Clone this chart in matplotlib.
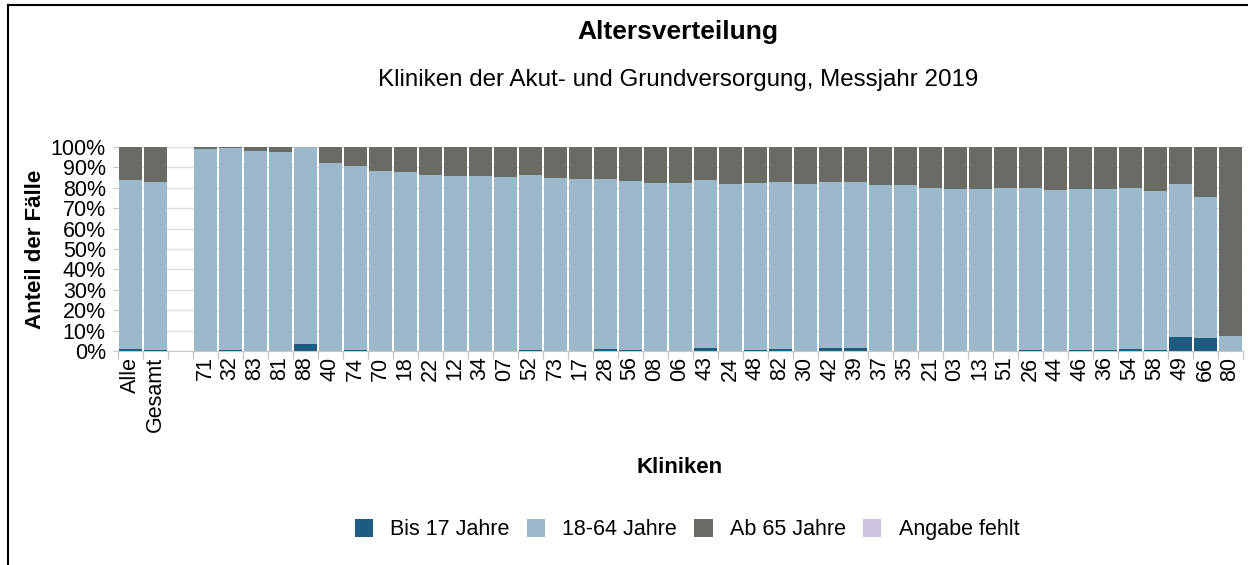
import numpy as np
import matplotlib.pyplot as plt
from matplotlib.lines import Line2D

plt.rcParams['font.family'] = ['Liberation Sans', 'DejaVu Sans']

# Kategorien (leerer Platz zwischen Gesamt und den Kliniken)
kliniken = ['Alle', 'Gesamt', '',
            '71', '32', '83', '81', '88', '40', '74', '70', '18', '22', '12', '34',
            '07', '52', '73', '17', '28', '56', '08', '06', '43', '24', '48', '82',
            '30', '42', '39', '37', '35', '21', '03', '13', '51', '26', '44', '46',
            '36', '54', '58', '49', '66', '80']

# Anteile in Prozent
bis17 = [0.8, 0.5, 0,
         0.0, 0.3, 0.0, 0.0, 3.4, 0.0, 0.5, 0.0, 0.0, 0.0, 0.0, 0.0,
         0.0, 0.5, 0.0, 0.0, 1.0, 0.5, 0.0, 0.0, 1.5, 0.0, 0.3, 1.0,
         0.0, 1.6, 1.5, 0.0, 0.0, 0.0, 0.0, 0.0, 0.0, 0.7, 0.0, 0.3,
         0.3, 1.0, 0.3, 6.7, 6.2, 0.0]
bis64_kum = [84.0, 82.8, 0,
             99.0, 99.7, 98.0, 97.5, 99.8, 92.0, 90.5, 88.4, 87.7, 86.4, 85.6, 85.9,
             85.5, 86.1, 84.8, 84.2, 84.3, 83.3, 82.5, 82.4, 83.8, 82.0, 82.5, 83.0,
             81.7, 82.8, 82.8, 81.5, 81.4, 80.1, 79.6, 79.4, 79.7, 80.1, 78.8, 79.2,
             79.2, 79.7, 78.4, 81.9, 75.7, 7.5]
angabe_fehlt = [0] * len(kliniken)

bis17 = np.array(bis17)
mitte = np.array(bis64_kum) - bis17
ab65 = np.array([0 if k == '' else 100 - c for k, c in zip(kliniken, bis64_kum)])
fehlt = np.array(angabe_fehlt)

farben = ['#1d5b80', '#9bb9ca', '#6a6b64', '#cbc3dd']
namen = ['Bis 17 Jahre', '18-64 Jahre', 'Ab 65 Jahre', 'Angabe fehlt']

fig = plt.figure(figsize=(12.48, 5.65), dpi=100)
ax = fig.add_axes([0.0942, 0.3788, 0.9014, 0.361])

x = np.arange(len(kliniken))
unten = np.zeros(len(kliniken))
for werte, farbe, name in zip([bis17, mitte, ab65, fehlt], farben, namen):
    ax.bar(x, werte, bottom=unten, width=0.92, color=farbe, label=name, zorder=2)
    unten = unten + werte

ax.set_xlim(-0.5, len(kliniken) - 0.5)
ax.set_ylim(0, 100)
ax.set_yticks(np.arange(0, 101, 10))
ax.set_yticklabels([f'{v}%' for v in range(0, 101, 10)], fontsize=15.5)
ax.yaxis.grid(True, color='#dedede', linewidth=1, zorder=0)
ax.set_axisbelow(True)

ax.set_xticks(x)
ax.set_xticklabels(kliniken, rotation=90, fontsize=15.5)
ax.tick_params(axis='x', which='major', length=0, pad=4)
ax.set_xticks(np.arange(-0.5, len(kliniken), 1), minor=True)
ax.tick_params(axis='x', which='minor', length=6, color='#c8c8c8', width=1)
ax.tick_params(axis='y', length=3.5, color='#c8c8c8', pad=5)

for s in ['top', 'right', 'left']:
    ax.spines[s].set_visible(False)
ax.spines['bottom'].set_color('#c8c8c8')

ax.set_ylabel('Anteil der Fälle', fontsize=16, fontweight='bold', labelpad=3)
ax.set_xlabel('Kliniken', fontsize=16, fontweight='bold', labelpad=18)

fig.text(0.543, 0.943, 'Altersverteilung', ha='center', va='center',
         fontsize=19, fontweight='bold')
fig.text(0.543, 0.858, 'Kliniken der Akut- und Grundversorgung, Messjahr 2019',
         ha='center', va='center', fontsize=17.4)

fig.legend(loc='center', bbox_to_anchor=(0.5505, 0.062), ncol=4, frameon=False,
           fontsize=15.5, handlelength=0.85, handleheight=0.85, columnspacing=0.8,
           handletextpad=0.8)

# Rahmen links und oben
fig.add_artist(Line2D([8 / 1248, 8 / 1248], [0, 1 - 5 / 565], color='black',
                      linewidth=1.5, transform=fig.transFigure))
fig.add_artist(Line2D([8 / 1248, 1], [1 - 5 / 565, 1 - 5 / 565], color='black',
                      linewidth=1.5, transform=fig.transFigure))

fig.savefig('out.png', dpi=100)
